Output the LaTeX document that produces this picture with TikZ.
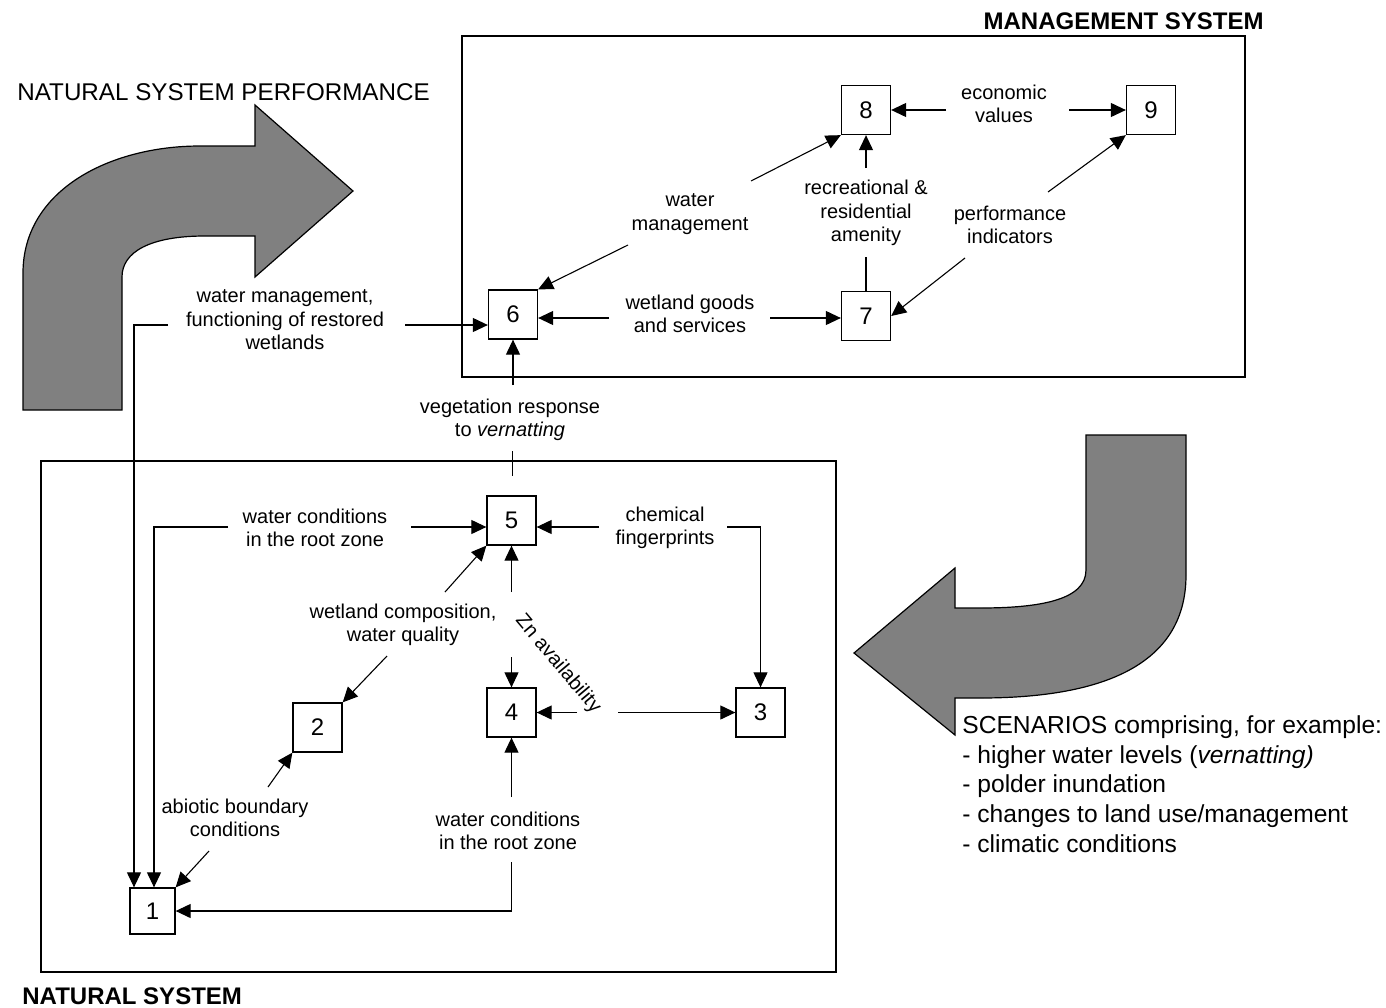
\documentclass[tikz,border=0pt]{standalone}
\usepackage{fontspec}
\setmainfont{Liberation Sans}
\usetikzlibrary{arrows.meta}
\begin{document}
\begin{tikzpicture}[x=0.5pt,y=-0.5pt,
  box/.style={draw,line width=0.65pt,minimum width=24.5pt,minimum height=24.5pt,inner sep=0pt,font=\fontsize{12}{14}\selectfont},
  ln/.style={line width=0.55pt},
  arr/.style={-{Triangle[length=7.5pt,width=7pt]}},
  lbl/.style={align=center,font=\fontsize{10}{11.75}\selectfont,inner sep=0pt},
  frame/.style={draw,line width=1.3pt},
  bigarrow/.style={fill={rgb,255:red,128;green,128;blue,128},draw=black,line width=0.6pt},
  title/.style={font=\fontsize{12.1}{14}\selectfont,inner sep=0pt},
  btitle/.style={font=\fontsize{12}{14}\selectfont\bfseries,inner sep=0pt}]
\useasboundingbox (0,0) rectangle (1386,1007);

% big arrows
\path[bigarrow] (23,410) -- (23,273) .. controls (23,190) and (110,146) .. (200,146) -- (255,146) -- (255,105) -- (353,191) -- (255,277) -- (255,236) -- (205,236) .. controls (150,236) and (122,252) .. (122,277) -- (122,410) -- cycle;
\path[bigarrow] (1086,435) -- (1186,435) -- (1186,575) .. controls (1186,655) and (1120,698) .. (980,698) -- (955,698) -- (955,735) -- (854,653) -- (955,568) -- (955,608) -- (980,608) .. controls (1040,608) and (1086,600) .. (1086,570) -- cycle;

% frames
\draw[frame] (462,36) rectangle (1245,377);
\draw[frame] (41,461) rectangle (836,972);

% titles
\node[btitle,anchor=east] (tms) at (1264,21) {MANAGEMENT SYSTEM};
\node[btitle,anchor=west] (tns) at (22,996) {NATURAL SYSTEM};
\node[title,anchor=west] (tnsp) at (17,92) {NATURAL SYSTEM PERFORMANCE};
\node[title,anchor=west,align=left,font=\fontsize{12.3}{14.85}\selectfont] (tsc) at (962,784) {SCENARIOS comprising, for example:\\- higher water levels (\textit{vernatting)}\\- polder inundation\\- changes to land use/management\\- climatic conditions};

% boxes
\node[box,minimum width=22.5pt,minimum height=23pt] (n1) at (152.5,911) {1};
\node[box] (n2) at (317.5,727.5) {2};
\node[box] (n3) at (760.5,712.5) {3};
\node[box] (n4) at (511.5,712.5) {4};
\node[box] (n5) at (511.5,520.5) {5};
\node[box] (n6) at (513,314.5) {6};
\node[box] (n7) at (866,316) {7};
\node[box] (n8) at (866,110) {8};
\node[box] (n9) at (1151,110) {9};

% labels
\node[lbl] (lwm) at (285,320) {water management,\\functioning of restored\\wetlands};
\node[lbl] (lveg) at (510,420) {vegetation response\\to \textit{vernatting}};
\node[lbl] (lwc1) at (315,528) {water conditions\\in the root zone};
\node[lbl] (lchem) at (665,528) {chemical\\fingerprints};
\node[lbl] (lcomp) at (403,625) {wetland composition,\\water quality};
\node[lbl,rotate=-50] (lzn) at (558,664) {Zn availability};
\node[lbl] (labio) at (235,818) {abiotic boundary\\conditions};
\node[lbl] (lwc2) at (508,831) {water conditions\\in the root zone};
\node[lbl] (lgoods) at (690,314) {wetland goods\\and services};
\node[lbl] (lwman) at (690,214) {water\\management};
\node[lbl] (lrec) at (866,213) {recreational \&\\residential\\amenity};
\node[lbl] (lperf) at (1010,225) {performance\\indicators};
\node[lbl] (lecon) at (1004,104) {economic\\values};

% connector ends
\coordinate (a1) at (168,325);
\coordinate (a2) at (405,325);
\coordinate (b1) at (228,527);
\coordinate (b2) at (411,527);
\coordinate (ch1) at (599,527);
\coordinate (ch2) at (727,527);
\coordinate (ab) at (209,851);
\coordinate (t2a) at (268,787);
\coordinate (t2b) at (387,656);
\coordinate (wc5) at (445,592);
\coordinate (v5) at (511.5,592);
\coordinate (v4) at (511.5,657);
\coordinate (zn1) at (577,712.5);
\coordinate (zn2) at (618,712.5);
\coordinate (wr) at (511.5,797);
\coordinate (wr2) at (511.5,862);
\coordinate (vg1) at (512.5,451);
\coordinate (vg2) at (512.5,476);
\coordinate (vg3) at (513,385);
\coordinate (wg1) at (609,318);
\coordinate (wg2) at (770,318);
\coordinate (wm1) at (628,245);
\coordinate (wm2) at (751,181);
\coordinate (rc1) at (866,257);
\coordinate (rc2) at (866,168);
\coordinate (pf1) at (965,258);
\coordinate (pf2) at (1048,192);
\coordinate (ec1) at (946,110);
\coordinate (ec2) at (1069,110);

% natural system connectors
\draw[ln,arr] (a1) -| ([xshift=-9.25pt]n1.north);
\draw[ln,arr] (a2) -- (a2 -| n6.west);
\draw[ln,arr] (b1) -| ([xshift=0.75pt]n1.north);
\draw[ln,arr] (b2) -- (b2 -| n5.west);
\draw[ln,arr] (ch1) -- (ch1 -| n5.east);
\draw[ln,arr] (ch2) -| (n3.north);
\draw[ln,arr] (ab) -- (n1.north east);
\draw[ln,arr] (t2a) -- (n2.south west);
\draw[ln,arr] (t2b) -- (n2.north east);
\draw[ln,arr] (wc5) -- (n5.south west);
\draw[ln,arr] (v5) -- (n5.south);
\draw[ln,arr] (v4) -- (n4.north);
\draw[ln,arr] (zn1) -- (n4.east);
\draw[ln,arr] (zn2) -- (n3.west);
\draw[ln,arr] (wr) -- (n4.south);
\draw[ln,arr] (wr2) |- (n1.east);
\draw[ln] (vg1) -- (vg2);
\draw[ln,arr] (vg3) -- (n6.south);

% management system connectors
\draw[ln,arr] (wg1) -- (wg1 -| n6.east);
\draw[ln,arr] (wg2) -- (wg2 -| n7.west);
\draw[ln,arr] (wm1) -- (n6.north east);
\draw[ln,arr] (wm2) -- (n8.south west);
\draw[ln] (n7.north) -- (rc1);
\draw[ln,arr] (rc2) -- (n8.south);
\draw[ln,arr] (pf1) -- (n7.east);
\draw[ln,arr] (pf2) -- (n9.south west);
\draw[ln,arr] (ec1) -- (n8.east);
\draw[ln,arr] (ec2) -- (n9.west);
\end{tikzpicture}
\end{document}
